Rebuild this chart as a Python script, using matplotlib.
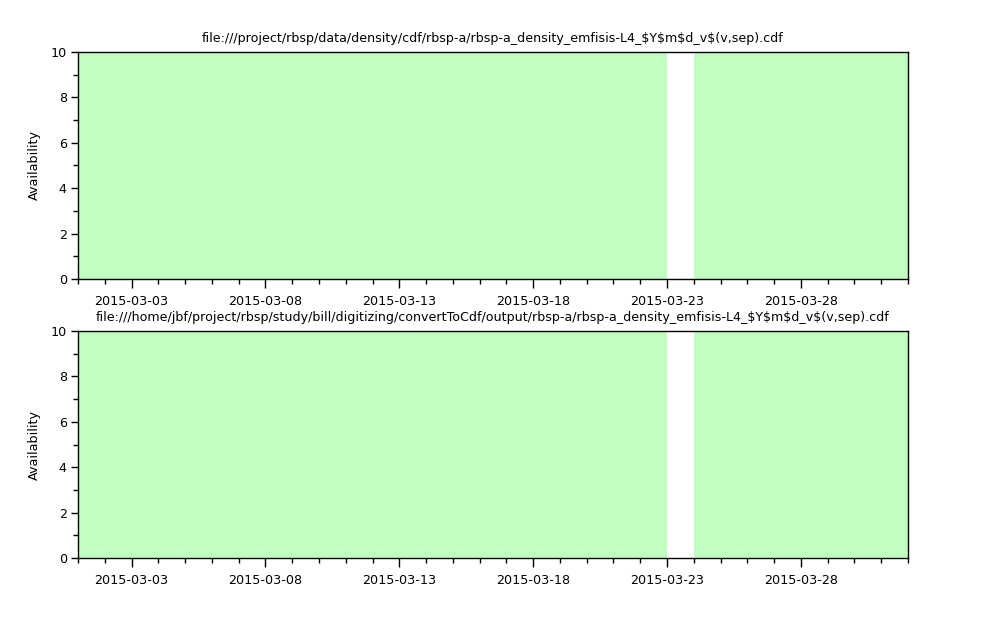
import datetime as dt

import matplotlib
matplotlib.use("Agg")
import matplotlib.pyplot as plt
import matplotlib.dates as mdates

# daily availability for March 2015 (10 = data present, 0 = missing)
days = [dt.datetime(2015, 3, d) for d in range(1, 32)]
avail_top = [10] * 22 + [0] + [10] * 8
avail_bottom = [10] * 22 + [0] + [10] * 8
titles = [
    "file:///project/rbsp/data/density/cdf/rbsp-a/rbsp-a_density_emfisis-L4_$Y$m$d_v$(v,sep).cdf",
    "file:///home/jbf/project/rbsp/study/bill/digitizing/convertToCdf/output/rbsp-a/rbsp-a_density_emfisis-L4_$Y$m$d_v$(v,sep).cdf",
]
series = [avail_top, avail_bottom]

fig = plt.figure(figsize=(9.99, 6.23), dpi=100)
boxes = [[0.0781, 0.5522, 0.8308, 0.3643], [0.0781, 0.1043, 0.8308, 0.3643]]

for box, vals, title in zip(boxes, series, titles):
    ax = fig.add_axes(box)
    ax.bar(days, vals, width=1.0, align="edge", color="#c0ffc0", linewidth=0)
    ax.set_xlim(dt.datetime(2015, 3, 1), dt.datetime(2015, 4, 1))
    ax.set_ylim(0, 10)
    ax.set_yticks([0, 2, 4, 6, 8, 10])
    ax.set_yticks([1, 3, 5, 7, 9], minor=True)
    ax.xaxis.set_major_locator(mdates.DayLocator(bymonthday=[3, 8, 13, 18, 23, 28]))
    ax.xaxis.set_minor_locator(mdates.DayLocator())
    ax.xaxis.set_major_formatter(mdates.DateFormatter("%Y-%m-%d"))
    ax.tick_params(which="major", length=6.5, width=1, labelsize=9.2, pad=5, direction="out")
    ax.tick_params(which="minor", length=3.5, width=1, direction="out")
    ax.tick_params(axis="y", which="major", length=5, pad=3)
    ax.set_ylabel("Availability", fontsize=9.2, labelpad=7)
    ax.set_title(title, fontsize=9.1, pad=7, parse_math=False)
    for s in ax.spines.values():
        s.set_linewidth(1)

fig.savefig("out.png", dpi=100)
